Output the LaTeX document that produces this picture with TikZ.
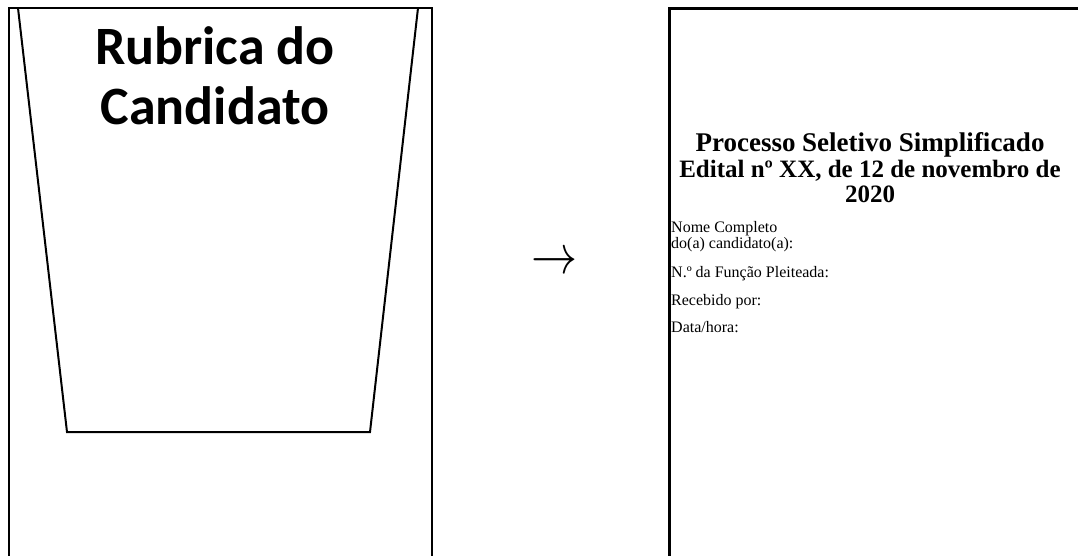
\RequirePackage{fix-cm}
\documentclass[tikz,border=0pt]{standalone}
\usepackage{fontspec}
\setmainfont{Liberation Serif}
\newfontfamily\carlito{Carlito}
\begin{document}
\begin{tikzpicture}[x=1pt,y=-1pt,
  frame/.style={line width=2pt, line join=miter},
  rframe/.style={line width=3pt, line join=miter},
  rub/.style={font=\carlito\bfseries\fontsize{54}{56}\selectfont, inner sep=0pt, anchor=base},
  ttl/.style={font=\bfseries\fontsize{27}{29}\selectfont, inner sep=0pt, anchor=base},
  sub/.style={font=\bfseries\fontsize{25}{27}\selectfont, inner sep=0pt, anchor=base},
  lbl/.style={font=\fontsize{16}{18}\selectfont, inner sep=0pt, anchor=base west}]
\useasboundingbox (0,0) rectangle (1078,556);
% left card
\draw[frame] (9,556) -- (9,8) -- (432,8) -- (432,556);
\draw[frame] (18,8) -- (67,432) -- (370,432) -- (418,8);
\node[rub] (rub1) at (215,65) {Rubrica do};
\node[rub] (rub2) at (215,125) {Candidato};
% arrow
\node[inner sep=0pt, font=\fontsize{46}{46}\selectfont] (arr) at (554,263) {\scalebox{1}[1.2]{$\rightarrow$}};
% right card
\draw[rframe] (669,556) -- (669,9) -- (1080,9);
\node[ttl] (t1) at (870,152) {Processo Seletivo Simplificado};
\node[sub] (t2) at (870,178) {Edital nº XX, de 12 de novembro de};
\node[sub] (t3) at (870,202) {2020};
\node[lbl] (l1) at (671,232) {Nome Completo};
\node[lbl] (l2) at (671,248) {do(a) candidato(a):};
\node[lbl] (l3) at (671,277) {N.º da Função Pleiteada:};
\node[lbl] (l4) at (671,305) {Recebido por:};
\node[lbl] (l5) at (671,332) {Data/hora:};
\end{tikzpicture}
\end{document}
